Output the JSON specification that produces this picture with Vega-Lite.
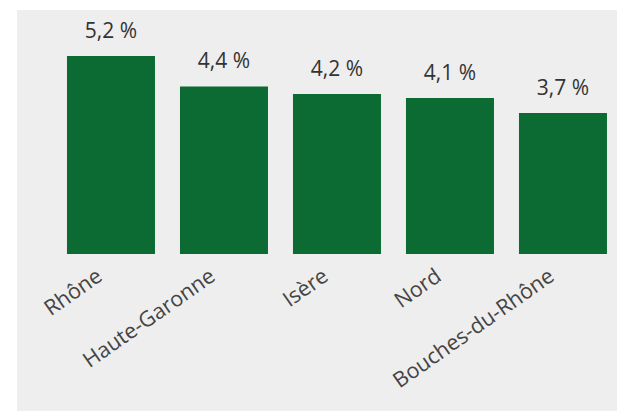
{
  "$schema": "https://vega.github.io/schema/vega-lite/v6.json",
  "width": 600,
  "height": 401,
  "autosize": {"type": "none"},
  "padding": {"left": 17, "top": 10, "right": 2, "bottom": 0},
  "background": "white",
  "config": {
    "view": {"fill": "#eeeeee", "stroke": null},
    "font": "Open Sans",
    "locale": {
      "number": {
        "decimal": ",",
        "thousands": " ",
        "grouping": [3],
        "currency": ["", " €"],
        "percent": " %"
      }
    }
  },
  "data": {
    "values": [
      {"departement": "Rhône", "part": 0.052},
      {"departement": "Haute-Garonne", "part": 0.044},
      {"departement": "Isère", "part": 0.042},
      {"departement": "Nord", "part": 0.041},
      {"departement": "Bouches-du-Rhône", "part": 0.037}
    ]
  },
  "encoding": {
    "x": {
      "field": "departement",
      "type": "nominal",
      "sort": null,
      "scale": {"paddingInner": 0.2212, "paddingOuter": 0.2655, "align": 0.833},
      "axis": {
        "title": null,
        "domain": false,
        "ticks": false,
        "labelAngle": -35,
        "labelFontSize": 21.5,
        "labelColor": "#444444",
        "labelPadding": 11,
        "labelOffset": -17,
        "labelLimit": 0,
        "offset": -157
      }
    },
    "y": {
      "field": "part",
      "type": "quantitative",
      "scale": {"domain": [-0.04123, 0.06408], "nice": false},
      "axis": null
    }
  },
  "layer": [
    {"mark": {"type": "bar", "color": "#0b6b32"}},
    {
      "mark": {"type": "text", "baseline": "alphabetic", "dy": -18, "fontSize": 21, "color": "#333333"},
      "encoding": {"text": {"field": "part", "type": "quantitative", "format": ".1%"}}
    }
  ]
}
